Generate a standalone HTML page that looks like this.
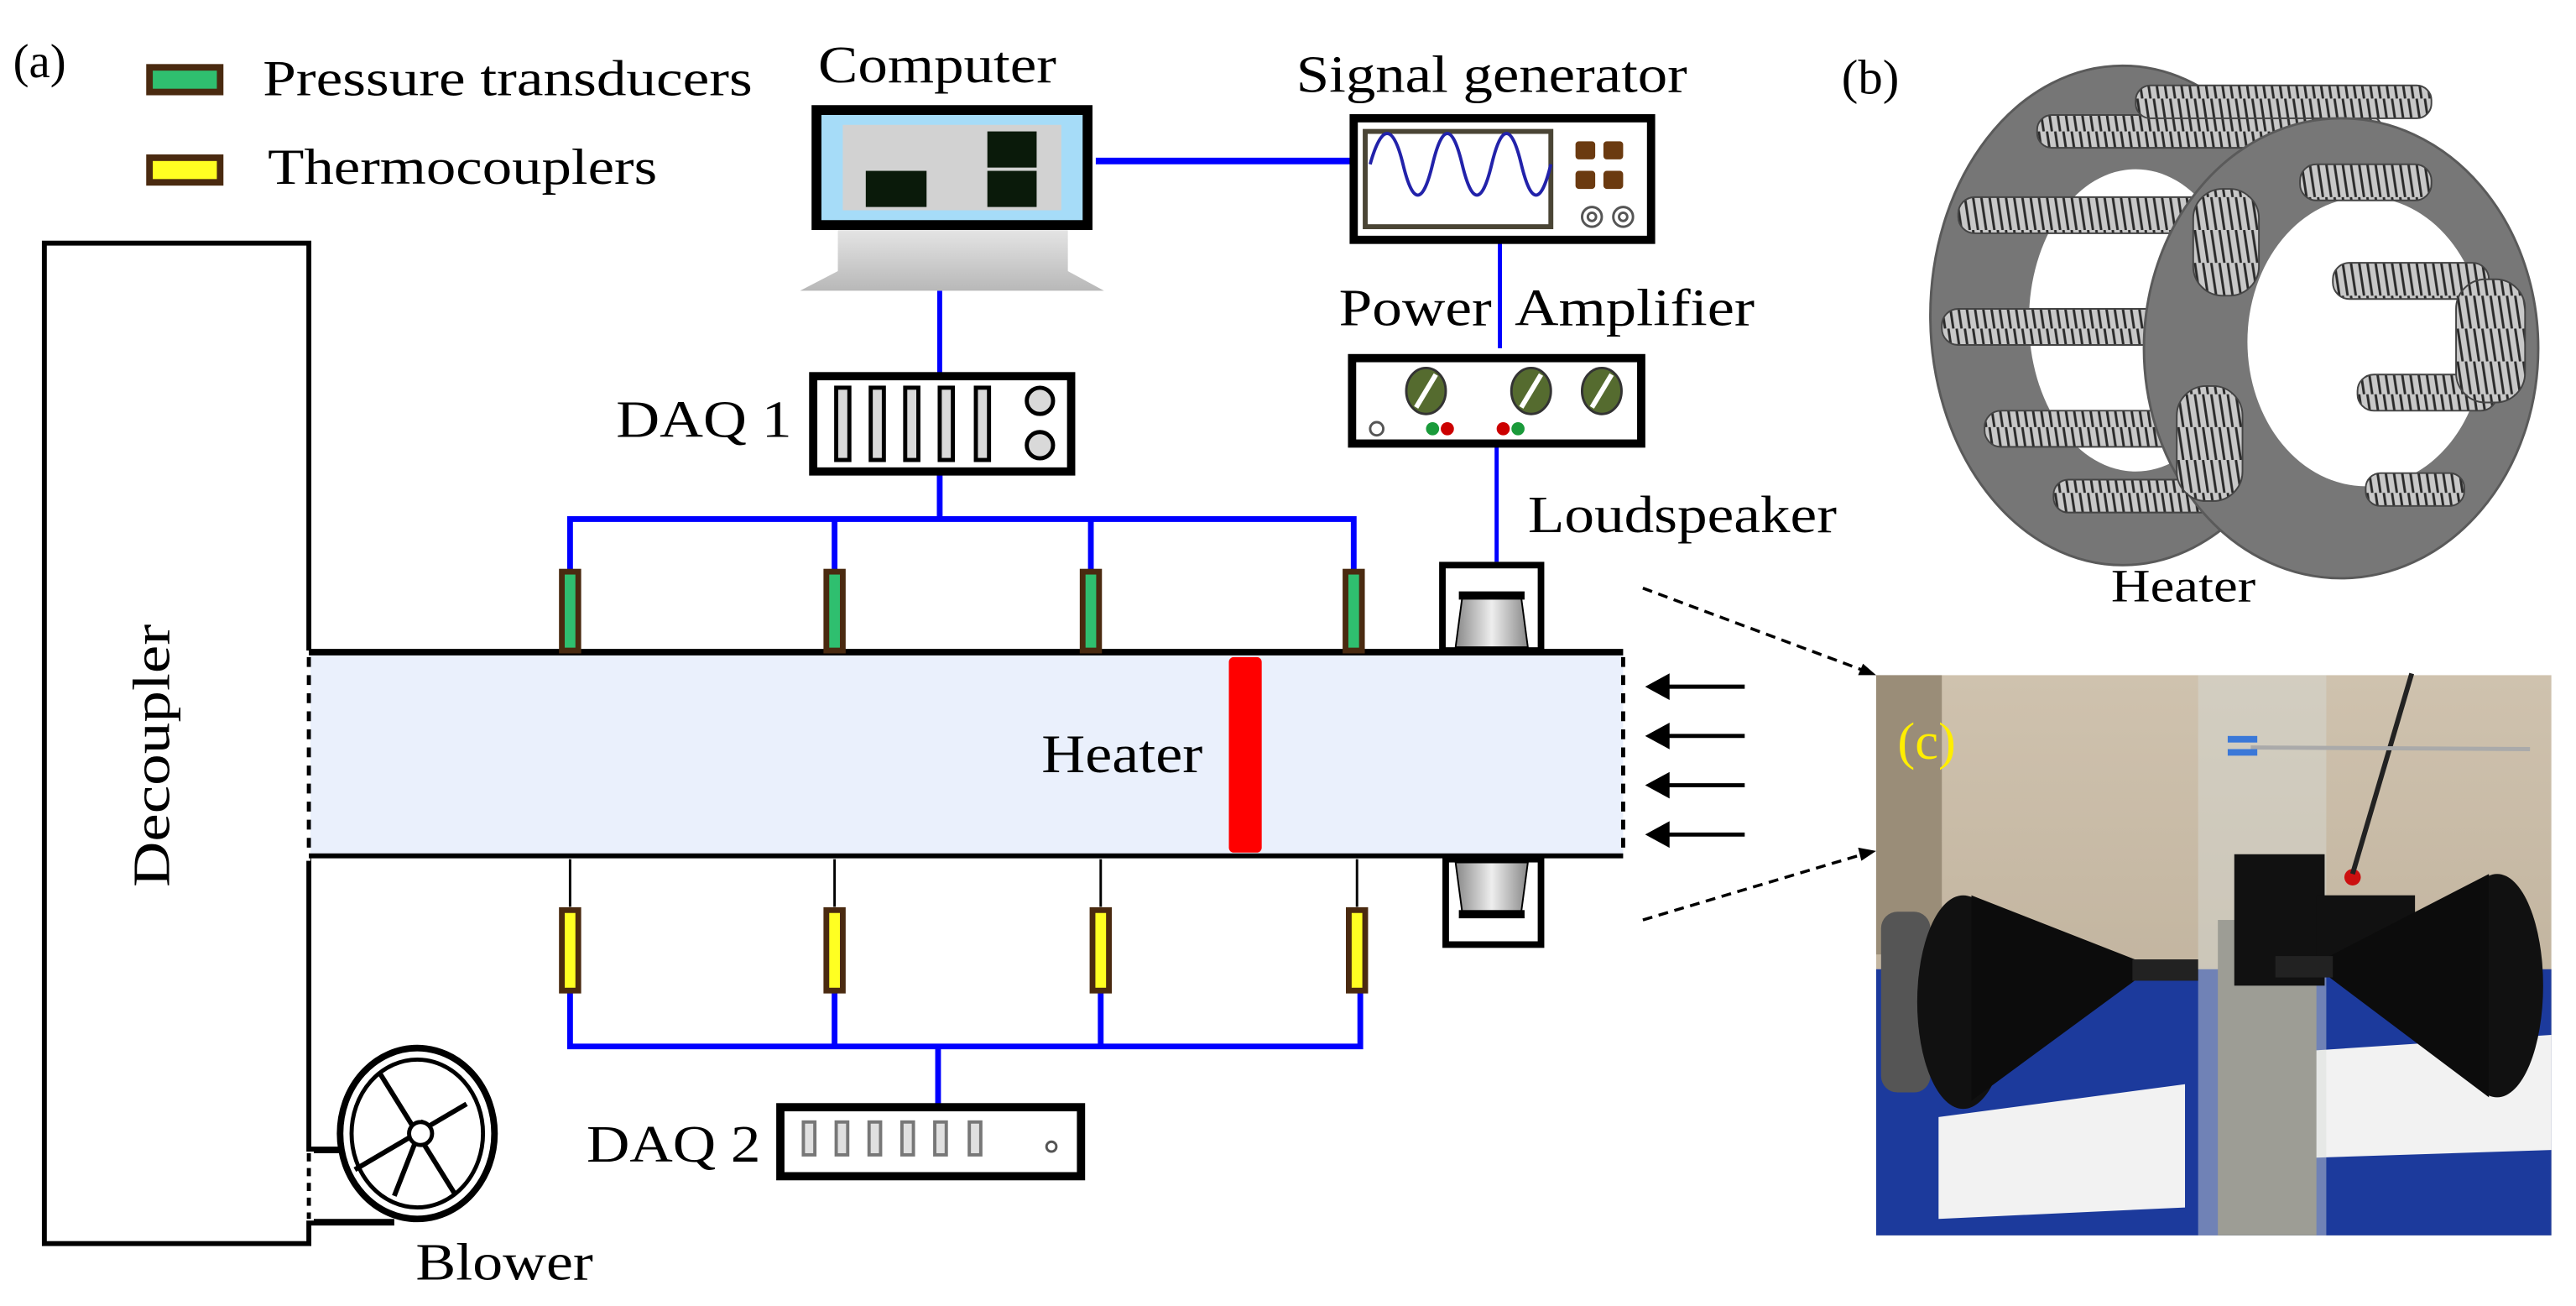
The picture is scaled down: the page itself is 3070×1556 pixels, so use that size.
<!DOCTYPE html>
<html><head><meta charset="utf-8"><style>
html,body{margin:0;padding:0;background:#fff;}
svg{display:block;}
text{font-family:"Liberation Serif",serif;fill:#000;}
</style></head><body>
<svg width="3070" height="1556" viewBox="0 0 1568 795" preserveAspectRatio="none" xmlns="http://www.w3.org/2000/svg">
<defs>
<linearGradient id="stand" x1="0" y1="0" x2="0" y2="1"><stop offset="0" stop-color="#e4e4e4"/><stop offset="1" stop-color="#b8b8b8"/></linearGradient>
<linearGradient id="spk" x1="0" y1="0" x2="1" y2="0"><stop offset="0" stop-color="#888"/><stop offset="0.5" stop-color="#eee"/><stop offset="1" stop-color="#888"/></linearGradient>
<linearGradient id="wall" x1="0" y1="0" x2="0" y2="1"><stop offset="0" stop-color="#cfc2ae"/><stop offset="1" stop-color="#b8aa94"/></linearGradient>
<pattern id="coil" width="5" height="20" patternUnits="userSpaceOnUse"><rect width="5" height="20" fill="#c8c8c8"/><line x1="1" y1="0" x2="4" y2="20" stroke="#2a2a2a" stroke-width="1.5"/></pattern>
</defs>

<text x="8" y="47" font-size="29">(a)</text>
<rect x="91" y="41" width="43" height="15" fill="#2fbf6f" stroke="#4a2a10" stroke-width="4"/>
<text x="160" y="58" font-size="31" textLength="298" lengthAdjust="spacingAndGlyphs">Pressure transducers</text>
<rect x="91" y="96" width="43" height="15" fill="#ffff22" stroke="#4a2a10" stroke-width="4"/>
<text x="163" y="112" font-size="31" textLength="237" lengthAdjust="spacingAndGlyphs">Thermocouplers</text>

<rect x="27" y="148" width="161" height="609" fill="none" stroke="#000" stroke-width="3"/>
<text transform="translate(103,460) rotate(-90)" font-size="32" text-anchor="middle" textLength="160" lengthAdjust="spacingAndGlyphs">Decoupler</text>

<rect x="188" y="398" width="800" height="123" fill="#eaf0fc"/>
<rect x="183" y="396" width="6" height="128" fill="#fff"/>
<line x1="188" y1="397" x2="988" y2="397" stroke="#000" stroke-width="4"/>
<line x1="188" y1="521" x2="988" y2="521" stroke="#000" stroke-width="3"/>
<line x1="188" y1="400" x2="188" y2="520" stroke="#000" stroke-width="2.5" stroke-dasharray="6,5"/>
<line x1="988" y1="400" x2="988" y2="521" stroke="#000" stroke-width="2.5" stroke-dasharray="6,5"/>
<rect x="748" y="400" width="20" height="119" rx="3" fill="#ff0000"/>
<text x="634" y="470" font-size="33" textLength="98" lengthAdjust="spacingAndGlyphs">Heater</text>

<g stroke="#000" stroke-width="2.5" fill="#000">
<line x1="1062" y1="418" x2="1012" y2="418"/><polygon points="1004,418 1015,412 1015,424"/>
<line x1="1062" y1="448" x2="1012" y2="448"/><polygon points="1004,448 1015,442 1015,454"/>
<line x1="1062" y1="478" x2="1012" y2="478"/><polygon points="1004,478 1015,472 1015,484"/>
<line x1="1062" y1="508" x2="1012" y2="508"/><polygon points="1004,508 1015,502 1015,514"/>
</g>

<g stroke="#0000ff" stroke-width="3.5" fill="none">
<polyline points="347,347 347,316 824,316 824,347"/>
<line x1="508" y1="316" x2="508" y2="347"/>
<line x1="664" y1="316" x2="664" y2="347"/>
<line x1="572" y1="288" x2="572" y2="316"/>
<line x1="572" y1="177" x2="572" y2="227" stroke-width="3"/>
<line x1="667" y1="98" x2="822" y2="98" stroke-width="4"/>
<line x1="913" y1="147" x2="913" y2="212" stroke-width="2.5"/>
<line x1="911" y1="271" x2="911" y2="342" stroke-width="2.5"/>
<polyline points="347,604 347,637 828,637 828,604"/>
<line x1="508" y1="604" x2="508" y2="637"/>
<line x1="670" y1="604" x2="670" y2="637"/>
<line x1="571" y1="637" x2="571" y2="672"/>
</g>
<g stroke="#000" stroke-width="1.5">
<line x1="347" y1="523" x2="347" y2="552"/><line x1="508" y1="523" x2="508" y2="552"/>
<line x1="670" y1="523" x2="670" y2="552"/><line x1="826" y1="523" x2="826" y2="552"/>
</g>
<g fill="#2fbf6f" stroke="#4a2a10" stroke-width="3.5">
<rect x="342" y="348" width="10" height="48"/><rect x="503" y="348" width="10" height="48"/>
<rect x="659" y="348" width="10" height="48"/><rect x="819" y="348" width="10" height="48"/>
</g>
<g fill="#ffff22" stroke="#4a2a10" stroke-width="3.5">
<rect x="342" y="554" width="10" height="49"/><rect x="503" y="554" width="10" height="49"/>
<rect x="665" y="554" width="10" height="49"/><rect x="821" y="554" width="10" height="49"/>
</g>

<rect x="494" y="64" width="171" height="76" fill="#000"/>
<rect x="500" y="70" width="159" height="64" fill="#a6dcf8"/>
<rect x="513" y="76" width="133" height="52" fill="#d2d2d2"/>
<rect x="527" y="104" width="37" height="22" fill="#0a1a0a"/>
<rect x="601" y="80" width="30" height="22" fill="#0a1a0a"/>
<rect x="601" y="104" width="30" height="22" fill="#0a1a0a"/>
<polygon points="510,140 650,140 650,165 672,177 487,177 510,165" fill="url(#stand)"/>
<text x="498" y="50" font-size="32" textLength="145" lengthAdjust="spacingAndGlyphs">Computer</text>

<rect x="824" y="72" width="181" height="74" fill="#fff" stroke="#000" stroke-width="5"/>
<rect x="831" y="80" width="113" height="58" fill="#fff" stroke="#4a4535" stroke-width="3"/>
<path d="M834,100 C841,75 848,75 854,100 C860,125 866,125 872,100 C878,75 884,75 890,100 C896,125 902,125 908,100 C914,75 920,75 926,100 C932,125 938,125 944,100" fill="none" stroke="#2222aa" stroke-width="2"/>
<g fill="#6b3a10"><rect x="959" y="86" width="12" height="11" rx="2"/><rect x="976" y="86" width="12" height="11" rx="2"/><rect x="959" y="104" width="12" height="11" rx="2"/><rect x="976" y="104" width="12" height="11" rx="2"/></g>
<g fill="none" stroke="#555" stroke-width="1.5"><circle cx="969" cy="132" r="6"/><circle cx="969" cy="132" r="2.5"/><circle cx="988" cy="132" r="6"/><circle cx="988" cy="132" r="2.5"/></g>
<text x="789" y="56" font-size="32" textLength="238" lengthAdjust="spacingAndGlyphs">Signal generator</text>

<text x="815" y="198" font-size="32" textLength="93" lengthAdjust="spacingAndGlyphs">Power</text>
<text x="922" y="198" font-size="32" textLength="146" lengthAdjust="spacingAndGlyphs">Amplifier</text>
<rect x="823" y="218" width="176" height="52" fill="#fff" stroke="#000" stroke-width="5"/>
<g fill="#556b2f" stroke="#333" stroke-width="1.5">
<ellipse cx="868" cy="238" rx="12" ry="14"/><ellipse cx="932" cy="238" rx="12" ry="14"/><ellipse cx="975" cy="238" rx="12" ry="14"/></g>
<g stroke="#fff" stroke-width="3"><line x1="862" y1="248" x2="874" y2="228"/><line x1="926" y1="248" x2="938" y2="228"/><line x1="969" y1="248" x2="981" y2="228"/></g>
<circle cx="838" cy="261" r="4" fill="none" stroke="#555" stroke-width="1.5"/>
<circle cx="872" cy="261" r="4" fill="#1a9a3a"/><circle cx="881" cy="261" r="4" fill="#cc0000"/>
<circle cx="915" cy="261" r="4" fill="#cc0000"/><circle cx="924" cy="261" r="4" fill="#1a9a3a"/>

<text x="930" y="324" font-size="32" textLength="188" lengthAdjust="spacingAndGlyphs">Loudspeaker</text>
<rect x="878" y="344" width="60" height="52" fill="#fff" stroke="#000" stroke-width="4"/>
<polygon points="890,364 926,364 930,394 886,394" fill="url(#spk)" stroke="#000" stroke-width="1"/>
<rect x="888" y="360" width="40" height="5" fill="#000"/>
<rect x="880" y="523" width="58" height="52" fill="#fff" stroke="#000" stroke-width="4"/>
<polygon points="886,525 930,525 926,555 890,555" fill="url(#spk)" stroke="#000" stroke-width="1"/>
<rect x="888" y="554" width="40" height="5" fill="#000"/>

<g stroke="#000" stroke-width="1.8" stroke-dasharray="6,4" fill="none">
<line x1="1000" y1="358" x2="1134" y2="408"/><line x1="1000" y1="560" x2="1134" y2="520"/></g>
<polygon points="1142,411 1131,411 1134,404" fill="#000"/>
<polygon points="1142,518 1133,524 1131,516" fill="#000"/>

<text x="375" y="266" font-size="32" textLength="107" lengthAdjust="spacingAndGlyphs">DAQ 1</text>
<rect x="495" y="229" width="157" height="58" fill="#fff" stroke="#000" stroke-width="5"/>
<g fill="#d9d9d9" stroke="#000" stroke-width="2.5">
<rect x="509" y="236" width="8" height="44"/><rect x="530" y="236" width="8" height="44"/><rect x="551" y="236" width="8" height="44"/><rect x="572" y="236" width="8" height="44"/><rect x="594" y="236" width="8" height="44"/>
<circle cx="633" cy="244" r="8"/><circle cx="633" cy="271" r="8"/></g>

<text x="357" y="707" font-size="32" textLength="106" lengthAdjust="spacingAndGlyphs">DAQ 2</text>
<rect x="475" y="674" width="183" height="42" fill="#fff" stroke="#000" stroke-width="5"/>
<g fill="#e0e0e0" stroke="#777" stroke-width="2">
<rect x="489" y="683" width="7" height="20"/><rect x="509" y="683" width="7" height="20"/><rect x="529" y="683" width="7" height="20"/><rect x="549" y="683" width="7" height="20"/><rect x="569" y="683" width="7" height="20"/><rect x="590" y="683" width="7" height="20"/></g>
<circle cx="640" cy="698" r="3" fill="none" stroke="#555" stroke-width="1.5"/>

<line x1="188" y1="700" x2="210" y2="700" stroke="#000" stroke-width="4"/>
<line x1="188" y1="744" x2="240" y2="744" stroke="#000" stroke-width="4"/>
<rect x="185" y="701" width="6" height="42" fill="#fff"/>
<line x1="188" y1="702" x2="188" y2="742" stroke="#000" stroke-width="2.5" stroke-dasharray="5,4"/>
<ellipse cx="254" cy="690" rx="47" ry="52" fill="#fff" stroke="#000" stroke-width="4"/>
<ellipse cx="254" cy="690" rx="40" ry="45" fill="none" stroke="#000" stroke-width="2.5"/>
<g stroke="#000" stroke-width="3" fill="none">
<line x1="231" y1="653" x2="277" y2="727"/><line x1="216" y1="712" x2="284" y2="672"/><line x1="258" y1="682" x2="240" y2="728"/></g>
<circle cx="256" cy="690" r="7" fill="#fff" stroke="#000" stroke-width="2.5"/>
<text x="253" y="779" font-size="32" textLength="108" lengthAdjust="spacingAndGlyphs">Blower</text>

<!-- (b) heater -->
<text x="1121" y="57" font-size="30">(b)</text>
<g>
<ellipse cx="1292" cy="192" rx="117" ry="152" fill="#767676" stroke="#5a5a5a" stroke-width="1.5"/>
<ellipse cx="1300" cy="195" rx="65" ry="92" fill="#fff"/>
<g fill="url(#coil)" stroke="#444" stroke-width="1">
<rect x="1240" y="70" width="210" height="20" rx="9"/>
<rect x="1300" y="52" width="180" height="20" rx="9"/>
<rect x="1192" y="120" width="230" height="22" rx="10"/>
<rect x="1182" y="188" width="230" height="22" rx="10"/>
<rect x="1208" y="250" width="200" height="22" rx="10"/>
<rect x="1250" y="292" width="150" height="20" rx="9"/>
</g>
<ellipse cx="1425" cy="212" rx="120" ry="140" fill="#777" stroke="#5a5a5a" stroke-width="1.5"/>
<ellipse cx="1440" cy="208" rx="72" ry="88" fill="#fff"/>
<g fill="url(#coil)" stroke="#444" stroke-width="1">
<rect x="1420" y="160" width="95" height="22" rx="10"/>
<rect x="1435" y="228" width="85" height="22" rx="10"/>
<rect x="1400" y="100" width="80" height="22" rx="10"/>
<rect x="1440" y="288" width="60" height="20" rx="9"/>
<rect x="1335" y="115" width="40" height="65" rx="18"/>
<rect x="1325" y="235" width="40" height="70" rx="18"/>
<rect x="1495" y="170" width="42" height="75" rx="18"/>
</g>
</g>
<text x="1285" y="366" font-size="28" textLength="88" lengthAdjust="spacingAndGlyphs">Heater</text>

<!-- (c) photo approx -->
<g>
<rect x="1142" y="411" width="411" height="341" fill="url(#wall)"/>
<rect x="1142" y="411" width="40" height="170" fill="#9a8d78"/>
<rect x="1142" y="590" width="411" height="162" fill="#1c3a9c"/>
<polygon points="1180,680 1330,660 1330,735 1180,742" fill="#f2f2f2"/>
<polygon points="1400,640 1553,630 1553,700 1400,705" fill="#f2f2f2"/>
<rect x="1350" y="560" width="60" height="192" fill="#6e6a60"/>
<rect x="1338" y="411" width="78" height="341" fill="#d8dcd8" opacity="0.45"/>
<rect x="1360" y="520" width="55" height="80" fill="#111"/>
<rect x="1410" y="545" width="60" height="40" fill="#111"/>
<circle cx="1432" cy="534" r="5" fill="#cc1010"/>
<line x1="1432" y1="532" x2="1468" y2="410" stroke="#222" stroke-width="3"/>
<line x1="1370" y1="455" x2="1540" y2="456" stroke="#aaa" stroke-width="2.5"/>
<rect x="1356" y="448" width="18" height="4" fill="#3a78d8"/><rect x="1356" y="456" width="18" height="4" fill="#3a78d8"/>
<rect x="1145" y="555" width="30" height="110" rx="10" fill="#555"/>
<ellipse cx="1195" cy="610" rx="28" ry="65" fill="#111"/>
<polygon points="1200,545 1302,585 1302,595 1200,670" fill="#0c0c0c"/>
<rect x="1298" y="584" width="40" height="13" fill="#222"/>
<ellipse cx="1520" cy="600" rx="28" ry="68" fill="#111"/>
<polygon points="1515,532 1418,582 1418,595 1515,668" fill="#0c0c0c"/>
<rect x="1385" y="582" width="35" height="13" fill="#222"/>
<text x="1155" y="462" font-size="32" style="fill:#ffee00">(c)</text>
</g>
</svg>
</body></html>
